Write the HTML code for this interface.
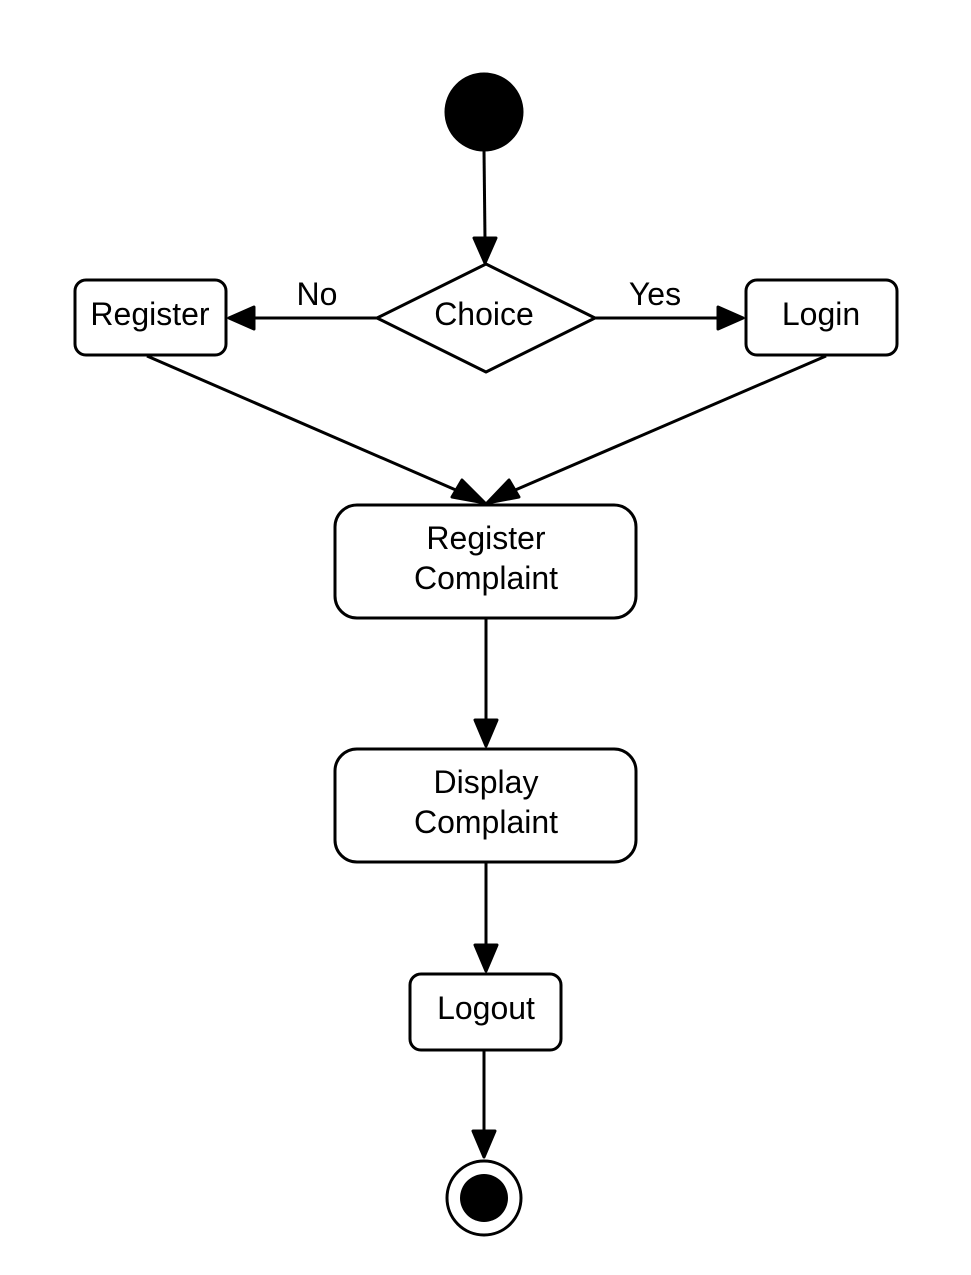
<!DOCTYPE html>
<html><head><meta charset="utf-8"><style>
html,body{margin:0;padding:0;background:#fff;}
svg{display:block;}
text{font-family:"Liberation Sans",Arial,sans-serif;font-size:32px;fill:#000;}
</style></head><body>
<svg width="971" height="1275" viewBox="0 0 971 1275" xmlns="http://www.w3.org/2000/svg">
<g stroke="#000" stroke-width="3" fill="none" stroke-linejoin="round">
<circle cx="484" cy="112" r="38" fill="#000"/>
<line x1="484" y1="150" x2="485" y2="240"/>
<polygon points="474,238 496,238 485,263" fill="#000"/>
<polygon points="486,264 595,318 486,372 377,318" fill="#fff"/>
<rect x="75" y="280" width="151" height="75" rx="11" fill="#fff"/>
<rect x="746" y="280" width="151" height="75" rx="11" fill="#fff"/>
<line x1="377" y1="318" x2="252" y2="318"/>
<polygon points="254,307 254,329 229,318" fill="#000"/>
<line x1="595" y1="318" x2="720" y2="318"/>
<polygon points="718,307 718,329 743,318" fill="#000"/>
<line x1="147" y1="356" x2="465" y2="494"/>
<polygon points="452,497 462,480 485,503" fill="#000"/>
<line x1="826" y1="356" x2="506" y2="494"/>
<polygon points="519,497 509,480 487,503" fill="#000"/>
<rect x="335" y="505" width="301" height="113" rx="22" fill="#fff"/>
<line x1="486" y1="618" x2="486" y2="722"/>
<polygon points="475,720 497,720 486,746" fill="#000"/>
<rect x="335" y="749" width="301" height="113" rx="22" fill="#fff"/>
<line x1="486" y1="862" x2="486" y2="947"/>
<polygon points="475,945 497,945 486,971" fill="#000"/>
<rect x="410" y="974" width="151" height="76" rx="11" fill="#fff"/>
<line x1="484" y1="1050" x2="484" y2="1133"/>
<polygon points="473,1131 495,1131 484,1157" fill="#000"/>
<circle cx="484" cy="1198" r="37" fill="#fff"/>
<circle cx="484" cy="1198" r="24" fill="#000" stroke="none"/>
</g>
<g text-anchor="middle">
<text x="150" y="325">Register</text>
<text x="821" y="325">Login</text>
<text x="484" y="325">Choice</text>
<text x="317" y="305">No</text>
<text x="655" y="305">Yes</text>
<text x="486" y="549">Register</text>
<text x="486" y="589">Complaint</text>
<text x="486" y="793">Display</text>
<text x="486" y="833">Complaint</text>
<text x="486" y="1019">Logout</text>
</g>
</svg>
</body></html>
